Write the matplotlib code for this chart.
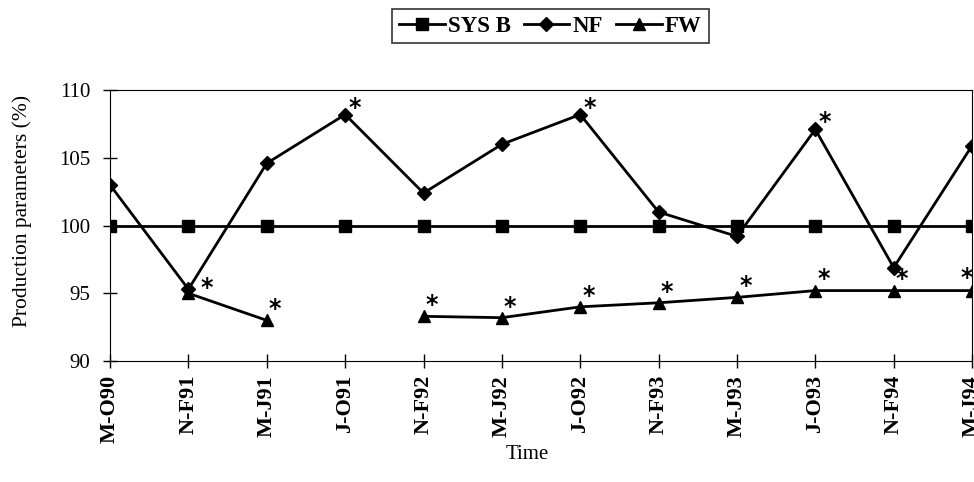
import numpy as np
import matplotlib.pyplot as plt

periods = ["M-O90", "N-F91", "M-J91", "J-O91", "N-F92", "M-J92",
           "J-O92", "N-F93", "M-J93", "J-O93", "N-F94", "M-J94"]
sys_b = [100, 100, 100, 100, 100, 100, 100, 100, 100, 100, 100, 100]
nf = [103.0, 95.3, 104.6, 108.2, 102.4, 106.0, 108.2, 101.0, 99.2, 107.1, 96.9, 105.9]
fw = [np.nan, 95.0, 93.0, np.nan, 93.3, 93.2, 94.0, 94.3, 94.7, 95.2, 95.2, 95.2]

# significance stars
stars_nf = [1, 3, 6, 9]
stars_fw = [2, 4, 5, 6, 7, 8, 9, 10, 11]

serif = "Liberation Serif"

fig = plt.figure(figsize=(9.74, 4.82), dpi=100)
ax = fig.add_axes([0.113, 0.251, 0.885, 0.562])

x = np.arange(len(periods))
ax.plot(x, sys_b, color="black", lw=2.0, marker="s", ms=8, label="SYS B")
ax.plot(x, nf, color="black", lw=2.0, marker="D", ms=7, label="NF")
ax.plot(x, fw, color="black", lw=2.0, marker="^", ms=9, label="FW")

star_kw = dict(textcoords="offset points", ha="center", va="center",
               fontsize=17, fontweight="bold", annotation_clip=False)
for i in stars_nf:
    off = (13, 1) if i == 1 else (7, 5)
    ax.annotate("*", (x[i], nf[i]), xytext=off, **star_kw)
for i in stars_fw:
    off = (-4, 9) if i == len(periods) - 1 else (6, 8)
    ax.annotate("*", (x[i], fw[i]), xytext=off, **star_kw)

ax.set_xlim(0, len(periods) - 1)
ax.set_ylim(90, 110)
ax.set_yticks([90, 95, 100, 105, 110])
ax.set_xticks(x)
ax.set_xticklabels(periods, rotation=90, fontfamily=serif,
                   fontweight="bold", fontsize=16)
for lab in ax.get_yticklabels():
    lab.set_fontfamily(serif)
    lab.set_fontsize(15)
ax.tick_params(axis="both", direction="inout", length=10, width=1)
ax.tick_params(axis="x", pad=5)
ax.tick_params(axis="y", pad=9)

ax.set_ylabel("Production parameters (%)", fontfamily=serif, fontsize=15.5)
ax.yaxis.set_label_coords(-0.09, 0.553)
ax.set_xlabel("Time", fontfamily=serif, fontsize=15)
ax.xaxis.set_label_coords(0.484, -0.31)

leg = fig.legend(loc="center", bbox_to_anchor=(0.565, 0.946), ncol=3,
                 frameon=True, fancybox=False, edgecolor="black",
                 prop={"family": serif, "size": 16.5, "weight": "bold"},
                 handlelength=2.0, handletextpad=0.15, columnspacing=0.55,
                 borderpad=0.3)
leg.get_frame().set_linewidth(1.2)

fig.savefig("out.png", dpi=100)
